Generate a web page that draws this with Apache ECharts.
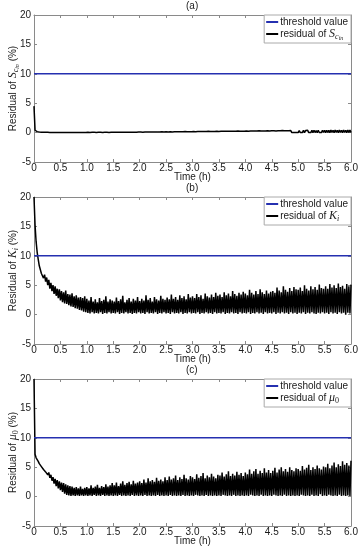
<!DOCTYPE html>
<html>
<head>
<meta charset="utf-8">
<script src="https://cdn.jsdelivr.net/npm/echarts@6/dist/echarts.min.js"></script>
<style>html,body{margin:0;padding:0;background:#fff}#c{width:360px;height:550px}</style>
</head>
<body>
<div id="c"></div>
<script>
// ---- data ----
const panelTitles = ['(a)', '(b)', '(c)'];
const xTickLabels = ['0','0.5','1.0','1.5','2.0','2.5','3.0','3.5','4.0','4.5','5.0','5.5','6.0'];
const yTickLabels = ['-5','0','5','10','15','20'];
const thresholdValue = 10;
const sampleStep = 0.02; // h between samples
const seriesNames = ['residual of Scin', 'residual of Ki', 'residual of mu0'];

const residualScin = [
 4.5,0.4,0.2,0.15,0.12,0.1,0.09,0.08,0.07,0.06,0.05,0.05,0.04,0.04,0.03,0.03,0.02,0.02,0.02,0.01,0.01,0.01,0.0,0.0,0.0,
 0.02,0.0,0.03,0.0,0.02,0.01,0.03,0.0,0.02,0.0,0.03,0.01,0.02,0.0,0.03,0.0,0.02,0.01,0.03,0.0,0.02,0.0,0.03,0.01,0.02,
 0.0,0.04,0.01,0.03,0.0,0.05,0.01,0.04,0.0,0.03,0.01,0.05,0.0,0.04,0.01,0.03,0.0,0.05,0.01,0.04,0.0,0.03,0.01,0.05,0.0,
 0.06,0.0,0.05,0.01,0.07,0.0,0.06,0.01,0.05,0.0,0.08,0.01,0.06,0.0,0.07,0.01,0.05,0.0,0.08,0.01,0.06,0.0,0.07,0.01,0.09,
 0.0,0.1,0.01,0.08,0.0,0.11,0.01,0.09,0.0,0.12,0.01,0.1,0.0,0.09,0.01,0.12,0.0,0.11,0.01,0.1,0.0,0.13,0.01,0.11,0.0,
 0.13,0.01,0.12,0.0,0.15,0.01,0.12,0.0,0.14,0.01,0.16,0.0,0.13,0.01,0.15,0.0,0.14,0.01,0.17,0.0,0.14,0.01,0.16,0.0,0.15,
 0.01,0.17,0.0,0.16,0.01,0.19,0.0,0.17,0.01,0.2,0.0,0.18,0.01,0.17,0.0,0.21,0.01,0.18,0.0,0.2,0.01,0.19,0.0,0.22,0.01,
 0.2,0.0,0.23,0.01,0.21,0.0,0.24,0.01,0.22,0.0,0.25,0.01,0.21,0.0,0.24,0.01,0.23,0.0,0.26,0.01,0.22,0.0,0.25,0.01,0.24,
 0.0,0.27,0.01,0.25,0.0,0.28,0.01,0.26,0.0,0.29,0.01,0.27,0.0,0.3,0.01,0.26,0.0,0.29,0.01,0.28,0.0,0.31,0.01,0.27,0.0,
 0.3,0.01,0.32,0.0,0.29,0.01,0.33,0.0,0.31,0.01,0.34,0.0,0.3,0.01,0.33,0.0,0.32,0.01,0.35,0.0,0.31,0.01,0.34,0.0,0.33,
 0.01,0.36,0.0,0.34,0.01,0.37,0.0,0.35,0.01,0.38,0.0,0.34,0.01,0.37,0.0,0.39,0.01,0.36,0.0,0.38,0.01,0.35,0.0,0.4,0.01,
 0.38,0.0,0.41,0.01,0.37,0.0,0.42,0.01,0.39,0.0,0.43,0.01,0.4,0.0,0.42,0.01,0.38,0.0,0.44,0.01,0.41,0.0,0.43,0.01,0.45,
 0.02
];

const residualKi = [
 20,15.2,12.4,10.6,9.4,8.3,8.0,7.0,7.3,6.2,6.8,5.6,6.3,5.0,5.9,4.4,5.4,4.0,5.0,3.5,4.8,3.2,4.4,2.8,4.3,
 2.4,4.0,2.1,3.8,1.9,4.1,1.8,3.5,1.6,3.4,1.4,3.6,1.3,3.1,1.1,3.3,1.0,2.9,0.8,3.0,0.7,2.8,0.5,3.1,0.4,
 2.7,0.3,2.4,0.2,3.0,0.4,2.2,0.2,2.6,0.3,2.1,0.2,2.8,0.4,2.3,0.1,2.5,0.3,3.1,0.2,2.2,0.4,2.6,0.2,2.4,
 0.3,2.2,0.2,2.9,0.4,2.3,0.1,2.6,0.3,3.2,0.2,2.1,0.4,2.5,0.2,2.8,0.3,2.2,0.1,2.7,0.3,2.4,0.2,3.0,0.4,
 2.3,0.2,2.7,0.3,2.4,0.1,3.3,0.4,2.5,0.2,2.8,0.3,2.2,0.2,3.0,0.4,2.6,0.1,2.4,0.3,3.2,0.2,2.7,0.4,2.5,
 0.2,2.9,0.3,2.6,0.1,3.4,0.4,2.7,0.2,3.0,0.3,2.5,0.2,3.3,0.4,2.8,0.1,3.1,0.3,2.6,0.2,3.5,0.4,2.9,0.2,
 3.1,0.3,2.8,0.2,3.5,0.4,3.0,0.1,3.3,0.3,2.7,0.2,3.6,0.4,3.1,0.2,2.9,0.3,3.4,0.1,3.0,0.4,3.7,0.2,3.2,
 0.3,3.4,0.2,3.0,0.4,3.8,0.1,3.3,0.3,3.6,0.2,3.1,0.4,4.0,0.2,3.5,0.3,3.2,0.1,3.7,0.4,3.4,0.2,3.9,0.3,
 3.6,0.2,3.3,0.4,4.2,0.1,3.7,0.3,3.4,0.2,4.0,0.4,3.5,0.2,4.3,0.3,3.8,0.1,3.5,0.4,4.1,0.2,3.6,0.3,3.9,
 0.2,4.0,0.4,3.7,0.1,4.6,0.3,4.1,0.2,3.8,0.4,4.8,0.2,4.2,0.3,3.9,0.1,4.5,0.4,4.0,0.2,4.7,0.3,4.3,0.1,
 4.2,0.3,4.6,0.2,4.0,0.4,5.0,0.1,4.4,0.3,4.1,0.2,4.8,0.4,4.3,0.2,4.7,0.1,4.2,0.3,5.1,0.2,4.5,0.4,4.4,
 0.2,4.8,0.3,4.4,0.1,5.2,0.4,4.6,0.2,5.0,0.3,4.5,0.1,5.3,0.4,4.7,0.2,4.9,0.3,4.4,0.0,5.2,0.3,4.8,0.2,
 5.1
];

const residualMu0 = [
 20,7.2,6.6,6.3,6.0,5.6,5.5,5.1,5.2,4.6,4.9,4.2,4.5,3.7,4.1,3.2,3.7,2.7,3.3,2.2,3.0,1.8,2.8,1.4,2.6,
 1.1,2.4,0.8,2.3,0.5,2.1,0.3,1.9,0.2,1.8,0.1,1.7,0.2,1.5,0.1,1.6,0.2,1.4,0.1,1.7,0.2,1.3,0.1,1.5,0.2,
 1.6,0.1,1.4,0.2,1.9,0.1,1.5,0.3,1.7,0.1,2.0,0.2,1.5,0.1,1.8,0.3,1.6,0.1,2.1,0.2,1.7,0.1,1.9,0.2,2.3,
 0.1,1.9,0.2,2.4,0.1,1.8,0.3,2.2,0.1,2.6,0.2,2.0,0.1,2.3,0.2,2.5,0.1,2.1,0.3,2.7,0.1,2.2,0.2,2.4,0.1,
 2.6,0.2,2.3,0.1,2.9,0.3,2.4,0.1,3.1,0.2,2.6,0.1,2.8,0.2,2.5,0.1,3.2,0.3,2.7,0.1,2.9,0.2,2.6,0.1,3.3,
 0.2,2.8,0.1,3.4,0.3,2.9,0.1,3.1,0.2,3.6,0.1,2.8,0.2,3.3,0.1,3.0,0.3,3.7,0.1,3.1,0.2,2.9,0.1,3.5,0.2,
 3.3,0.1,3.0,0.3,3.8,0.2,3.2,0.1,3.5,0.2,4.0,0.1,3.1,0.3,3.6,0.1,3.3,0.2,3.9,0.1,3.4,0.2,3.1,0.1,3.7,
 0.2,3.6,0.1,4.1,0.3,3.4,0.2,3.8,0.1,4.3,0.2,3.5,0.1,3.9,0.3,3.6,0.1,4.2,0.2,3.7,0.1,4.0,0.2,3.5,0.1,
 4.1,0.2,3.8,0.1,4.6,0.3,3.9,0.2,4.3,0.1,4.7,0.2,3.9,0.1,4.4,0.3,4.0,0.1,4.8,0.2,4.1,0.1,4.5,0.2,4.0,
 0.1,4.4,0.3,4.9,0.2,4.1,0.1,4.6,0.2,5.0,0.1,4.3,0.3,4.7,0.1,4.2,0.2,5.0,0.1,4.5,0.2,4.3,0.1,4.8,0.2,
 4.7,0.1,4.4,0.3,5.2,0.2,4.6,0.1,4.9,0.2,5.4,0.1,4.5,0.3,5.0,0.1,4.7,0.2,5.3,0.1,4.8,0.4,4.6,0.1,5.1,
 0.2,5.0,0.1,5.6,0.3,4.8,0.2,5.3,0.1,5.8,0.2,5.0,0.1,5.5,0.3,5.2,0.1,6.0,0.2,5.4,0.1,5.7,0.2,5.3,0.1,
 6.1
];

const residuals = [residualScin, residualKi, residualMu0];

// ---- layout ----
const grids = [
  {left: 34, right: 9, top: 15, height: 147},
  {left: 34, right: 9, top: 197, height: 147},
  {left: 34, right: 9, top: 379, height: 147}
];
const FONT = '"Liberation Sans", Arial, sans-serif';
const axisGray = '#8a8a8a';
const textColor = '#1a1a1a';
const blue = '#2530b0';

const rich = {
  b: {fontFamily: FONT, fontSize: 10, color: textColor, lineHeight: 14, verticalAlign: 'middle'},
  it: {fontFamily: '"Liberation Serif", serif', fontStyle: 'italic', fontSize: 12, color: textColor, lineHeight: 14, verticalAlign: 'middle'},
  sub: {fontFamily: '"Liberation Serif", serif', fontStyle: 'italic', fontSize: 8, color: textColor, lineHeight: 8, verticalAlign: 'bottom'},
  subn: {fontFamily: '"Liberation Serif", serif', fontSize: 8, color: textColor, lineHeight: 8, verticalAlign: 'bottom'},
  subsub: {fontFamily: '"Liberation Serif", serif', fontStyle: 'italic', fontSize: 6, color: textColor, lineHeight: 4, verticalAlign: 'bottom'}
};
const symText = [
  '{it|S}{sub|c}{subsub|in}',
  '{it|K}{sub|i}',
  '{it|μ}{subn|0}'
];
const legendLabel = {
  'threshold value': '{b|threshold value}',
  'residual of Scin': '{b|residual of }' + symText[0],
  'residual of Ki': '{b|residual of }' + symText[1],
  'residual of mu0': '{b|residual of }' + symText[2]
};

const option = {
  animation: false,
  backgroundColor: '#fff',
  graphic: [], grid: [], xAxis: [], yAxis: [], legend: [], series: []
};

grids.forEach((g, i) => {
  option.grid.push({left: g.left, right: g.right, top: g.top, height: g.height, show: false,
    outerBoundsMode: 'none', containLabel: false});
  option.graphic.push({
    type: 'text', left: 186, top: g.top - 14, silent: true,
    style: {text: panelTitles[i], font: '10px ' + FONT, fill: textColor}
  });
  const xBase = {
    type: 'value', gridIndex: i, min: 0, max: 6, interval: 0.5,
    axisLine: {show: true, onZero: false, lineStyle: {color: axisGray, width: 1}},
    axisTick: {show: true, inside: true, length: 3, lineStyle: {color: axisGray}},
    splitLine: {show: false}
  };
  option.xAxis.push(Object.assign({}, xBase, {
    position: 'bottom',
    name: 'Time (h)', nameLocation: 'middle', nameGap: 10, nameMoveOverlap: false,
    nameTextStyle: {fontFamily: FONT, fontSize: 10, color: textColor},
    axisLabel: {fontFamily: FONT, fontSize: 10, color: textColor, margin: 1,
      formatter: v => xTickLabels[Math.round(v / 0.5)]}
  }));
  option.xAxis.push(Object.assign({}, xBase, {position: 'top', axisLabel: {show: false}}));
  const yBase = {
    type: 'value', gridIndex: i, min: -5, max: 20, interval: 5,
    axisLine: {show: true, onZero: false, lineStyle: {color: axisGray, width: 1}},
    axisTick: {show: true, inside: true, length: 3, lineStyle: {color: axisGray}},
    splitLine: {show: false}
  };
  option.yAxis.push(Object.assign({}, yBase, {
    position: 'left',
    name: '{b|Residual of }' + symText[i] + '{b| (%)}',
    nameLocation: 'middle', nameGap: 14, nameMoveOverlap: false,
    nameTextStyle: {rich: rich},
    axisLabel: {fontFamily: FONT, fontSize: 10, color: textColor, margin: 3,
      formatter: v => yTickLabels[Math.round((v + 5) / 5)]}
  }));
  option.yAxis.push(Object.assign({}, yBase, {position: 'right', axisLabel: {show: false}}));

  option.legend.push({
    orient: 'vertical', right: 9, top: g.top,
    data: ['threshold value', seriesNames[i]],
    icon: 'rect', itemWidth: 12, itemHeight: 2, itemGap: 1,
    padding: [2, 3, 2, 2],
    backgroundColor: '#fff', borderColor: '#aaa', borderWidth: 1, borderRadius: 0,
    selectedMode: false,
    formatter: name => legendLabel[name],
    textStyle: {rich: rich, padding: [0, 0, 0, -3]}
  });

  option.series.push({
    name: 'threshold value', type: 'line', xAxisIndex: 2 * i, yAxisIndex: 2 * i,
    data: [[0, thresholdValue], [6, thresholdValue]],
    showSymbol: false, symbol: 'none', silent: true,
    lineStyle: {color: blue, width: 1.6}, itemStyle: {color: blue}, z: 3
  });
  option.series.push({
    name: seriesNames[i], type: 'line', xAxisIndex: 2 * i, yAxisIndex: 2 * i,
    data: residuals[i].map((v, k) => [k * sampleStep, v]),
    showSymbol: false, symbol: 'none', silent: true, sampling: null,
    lineStyle: {color: '#000', width: 1.5}, itemStyle: {color: '#000'}, z: 2
  });
});

const chart = echarts.init(document.getElementById('c'), null, {renderer: 'canvas'});
chart.setOption(option);
</script>
</body>
</html>
